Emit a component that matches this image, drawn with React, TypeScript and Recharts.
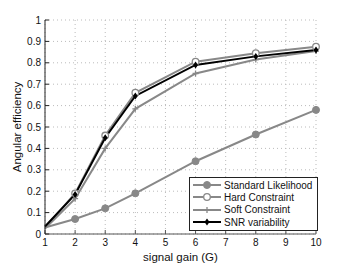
import {
  LineChart,
  Line,
  XAxis,
  YAxis,
  CartesianGrid,
  Legend,
} from "recharts";

const gains = [1, 2, 3, 4, 6, 8, 10];
const standardLikelihood = [0.03, 0.07, 0.12, 0.19, 0.34, 0.465, 0.58];
const hardConstraint = [0.03, 0.19, 0.46, 0.66, 0.805, 0.845, 0.875];
const softConstraint = [0.025, 0.165, 0.4, 0.585, 0.75, 0.815, 0.855];
const snrVariability = [0.035, 0.185, 0.45, 0.645, 0.79, 0.83, 0.86];
const xTicks = [1, 2, 3, 4, 5, 6, 7, 8, 9, 10];
const yTicks = [0, 0.1, 0.2, 0.3, 0.4, 0.5, 0.6, 0.7, 0.8, 0.9, 1];

const data = gains.map((g, i) => ({
  g,
  std: standardLikelihood[i],
  hard: hardConstraint[i],
  soft: softConstraint[i],
  snr: snrVariability[i],
}));

const GRAY = "#888";
const font = "'Liberation Sans', Arial, sans-serif";

// the first point (G = 1) is drawn without a marker
const FilledDot = (p: any) =>
  p.index === 0 ? <g key={p.index} /> : (
    <circle key={p.index} cx={p.cx} cy={p.cy} r={3.5} fill={GRAY} stroke={GRAY} />
  );
const OpenDot = (p: any) =>
  p.index === 0 ? <g key={p.index} /> : (
    <circle key={p.index} cx={p.cx} cy={p.cy} r={3.3} fill="#fff" stroke={GRAY} strokeWidth={1.3} />
  );
const PlusDot = (p: any) =>
  p.index === 0 ? <g key={p.index} /> : (
    <path
      key={p.index}
      d={`M${p.cx - 3},${p.cy}H${p.cx + 3}M${p.cx},${p.cy - 3}V${p.cy + 3}`}
      stroke={GRAY}
      strokeWidth={1.3}
    />
  );
const DiamondDot = (p: any) =>
  p.index === 0 ? <g key={p.index} /> : (
    <path
      key={p.index}
      d={`M${p.cx},${p.cy - 3.5}L${p.cx + 2.5},${p.cy}L${p.cx},${p.cy + 3.5}L${p.cx - 2.5},${p.cy}Z`}
      fill="#000"
    />
  );

const legendItems = [
  { label: "Standard Likelihood", color: GRAY, Dot: FilledDot },
  { label: "Hard Constraint", color: GRAY, Dot: OpenDot },
  { label: "Soft Constraint", color: GRAY, Dot: PlusDot },
  { label: "SNR variability", color: "#000", Dot: DiamondDot },
];

const LegendBox = () => (
  <div
    style={{
      border: "1px solid #222",
      background: "#fff",
      width: 127,
      padding: "1px 0 2px",
      fontFamily: font,
      fontSize: 10,
      color: "#111",
      whiteSpace: "nowrap",
    }}
  >
    {legendItems.map(({ label, color, Dot }) => (
      <div key={label} style={{ display: "flex", alignItems: "center", height: 12.3 }}>
        <svg width={32} height={12} style={{ marginLeft: 1, flex: "none" }}>
          <line x1={2} x2={30} y1={6} y2={6} stroke={color} strokeWidth={2} />
          <Dot cx={16} cy={6} index={1} />
        </svg>
        <span style={{ marginLeft: 1 }}>{label}</span>
      </div>
    ))}
  </div>
);

const TrendChart = () => {
  return (
    <div style={{ position: "absolute", left: 0, top: 0, background: "#fff" }}>
      <LineChart
        width={349}
        height={263}
        data={data}
        margin={{ top: 20, right: 33, bottom: 9, left: 15 }}
      >
        <CartesianGrid stroke="#bbb" strokeDasharray="1 3" />
        <XAxis
          dataKey="g"
          type="number"
          domain={[1, 10]}
          ticks={xTicks}
          interval={0}
          height={20}
          tickSize={-4}
          tickMargin={9}
          stroke="#555"
          tick={{ fill: "#111", fontSize: 10, fontFamily: font }}
          label={{
            value: "signal gain (G)",
            position: "insideBottom",
            offset: -7,
            style: { fill: "#111", fontSize: 11.5, fontFamily: font },
          }}
        />
        <XAxis
          xAxisId="top"
          orientation="top"
          dataKey="g"
          type="number"
          domain={[1, 10]}
          ticks={xTicks}
          tickSize={-4}
          tick={false}
          height={0}
          stroke="#333"
        />
        <YAxis
          type="number"
          domain={[0, 1]}
          ticks={yTicks}
          interval={0}
          width={30}
          tickSize={-4}
          tickMargin={8}
          stroke="#222"
          tick={{ fill: "#111", fontSize: 10, fontFamily: font }}
          label={{
            value: "Angular efficiency",
            angle: -90,
            position: "insideLeft",
            offset: 2,
            style: { fill: "#111", fontSize: 11.5, fontFamily: font, textAnchor: "middle" },
          }}
        />
        <YAxis
          yAxisId="right"
          orientation="right"
          type="number"
          domain={[0, 1]}
          ticks={yTicks}
          tickSize={-4}
          tick={false}
          width={0}
          stroke="#333"
        />
        <Legend
          layout="horizontal"
          verticalAlign="middle"
          align="center"
          content={<LegendBox />}
          wrapperStyle={{ left: 189, top: 177, width: "auto" }}
        />
        <Line dataKey="std" stroke={GRAY} strokeWidth={2} dot={FilledDot} isAnimationActive={false} />
        <Line dataKey="hard" stroke={GRAY} strokeWidth={2} dot={OpenDot} isAnimationActive={false} />
        <Line dataKey="soft" stroke={GRAY} strokeWidth={2} dot={PlusDot} isAnimationActive={false} />
        <Line dataKey="snr" stroke="#000" strokeWidth={2} dot={DiamondDot} isAnimationActive={false} />
      </LineChart>
    </div>
  );
};

export default TrendChart;
